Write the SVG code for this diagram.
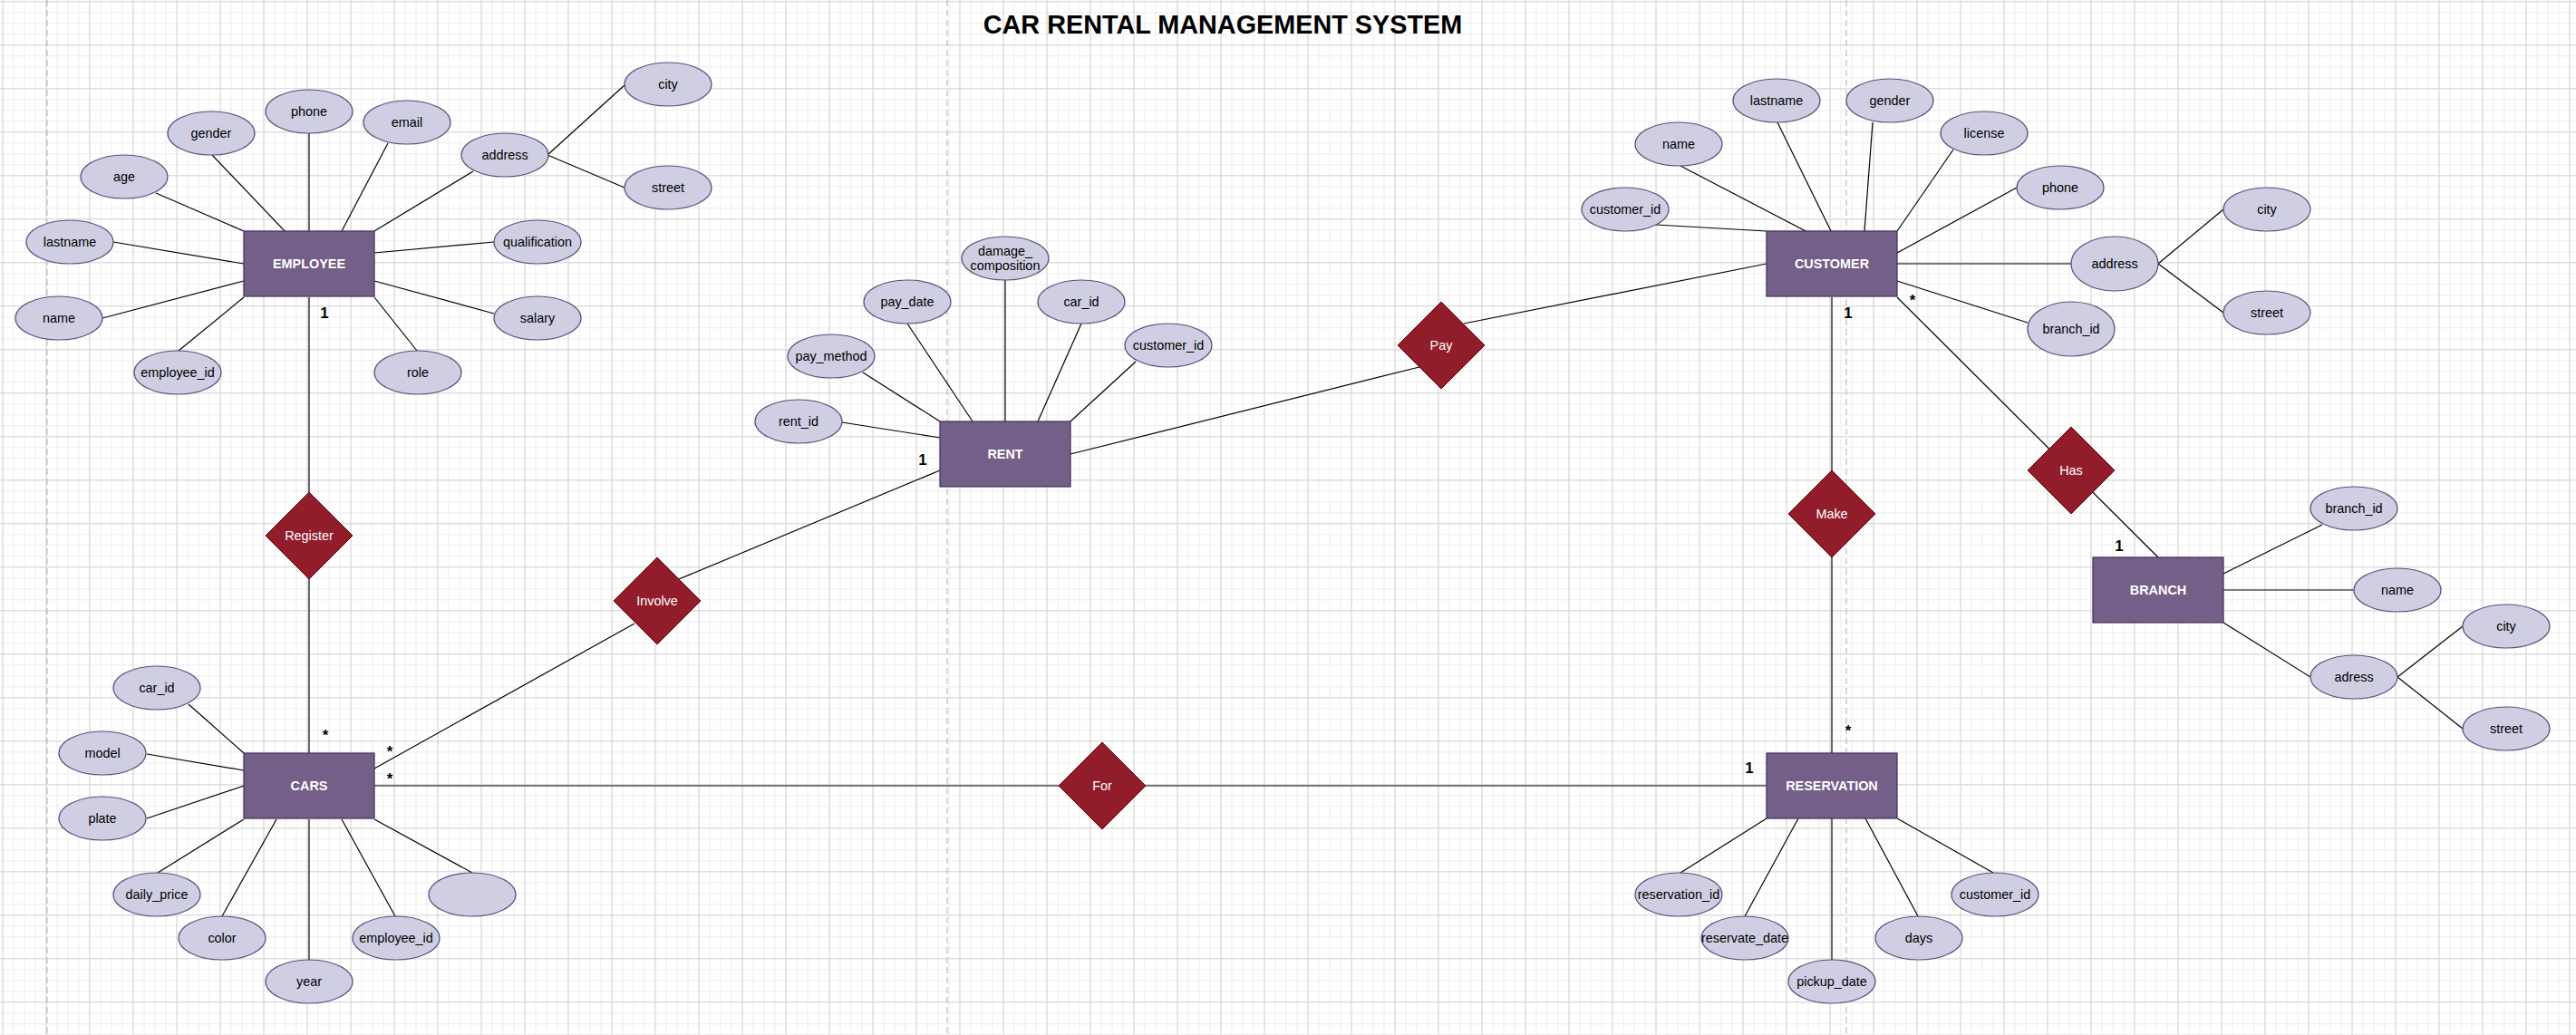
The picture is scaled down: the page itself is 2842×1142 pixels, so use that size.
<svg xmlns="http://www.w3.org/2000/svg" width="2842" height="1142" viewBox="0 0 2842 1142">
<style>
.ent rect{fill:#745F88;stroke:#432D57;stroke-width:1.2}
.ent text{fill:#fff;font-family:"Liberation Sans",Arial,Helvetica,sans-serif;font-size:14.4px;font-weight:bold;text-anchor:middle}
.att ellipse{fill:#D0CEE2;stroke:#56517E;stroke-width:1.2}
.att text{fill:#000;font-family:"Liberation Sans",Arial,Helvetica,sans-serif;font-size:14.4px;text-anchor:middle}
.rel path{fill:#911D2B;stroke:#6F0000;stroke-width:1}
.rel text{fill:#fff;font-family:"Liberation Sans",Arial,Helvetica,sans-serif;font-size:14.4px;text-anchor:middle}
#connectors line{stroke:#000;stroke-width:1.2}
.card{fill:#000;font-family:"Liberation Sans",Arial,Helvetica,sans-serif;font-size:16.8px;font-weight:bold;text-anchor:middle}
.title{fill:#000;font-family:"Liberation Sans",Arial,Helvetica,sans-serif;font-size:28.8px;font-weight:bold;text-anchor:middle}
.page{stroke:#BDBDBD;stroke-width:1.2;stroke-dasharray:7 4}
</style>
<defs>
<pattern id="minor" patternUnits="userSpaceOnUse" x="2.5" y="1.3" width="12" height="12">
<path d="M0 0.5H12M0.5 0V12" fill="none" stroke="#EDEDED" stroke-width="1"/>
</pattern>
<pattern id="major" patternUnits="userSpaceOnUse" x="2.5" y="1.3" width="48" height="48">
<path d="M0 0.5H48M0.5 0V48" fill="none" stroke="#D6D6D6" stroke-width="1"/>
</pattern>
</defs>
<rect width="2842" height="1142" fill="#fff"/>
<rect width="2842" height="1142" fill="url(#minor)"/>
<rect width="2842" height="1142" fill="url(#major)"/>
<line class="page" x1="52" y1="0" x2="52" y2="1142"/>
<line class="page" x1="1045" y1="0" x2="1045" y2="1142"/>
<line class="page" x1="2037" y1="0" x2="2037" y2="1142"/>

<text class="title" x="1349" y="37">CAR RENTAL MANAGEMENT SYSTEM</text>

<g id="connectors">
<!-- EMPLOYEE -->
<line x1="172" y1="213" x2="269" y2="255"/>
<line x1="234" y1="171" x2="316" y2="257"/>
<line x1="341" y1="147" x2="341" y2="255"/>
<line x1="428" y1="158" x2="377" y2="255"/>
<line x1="522" y1="189" x2="413" y2="255"/>
<line x1="604" y1="171" x2="689" y2="94"/>
<line x1="604" y1="171" x2="689" y2="207"/>
<line x1="125" y1="267" x2="269" y2="291"/>
<line x1="113" y1="351" x2="269" y2="310"/>
<line x1="197" y1="387" x2="269" y2="328"/>
<line x1="460" y1="387" x2="413" y2="328"/>
<line x1="545" y1="346" x2="413" y2="310"/>
<line x1="545" y1="267" x2="413" y2="279"/>
<line x1="341" y1="328" x2="341" y2="831"/>
<!-- CARS -->
<line x1="208" y1="777" x2="269" y2="831"/>
<line x1="162" y1="832" x2="269" y2="850"/>
<line x1="162" y1="903" x2="269" y2="867"/>
<line x1="174" y1="963" x2="269" y2="904"/>
<line x1="245" y1="1011" x2="305" y2="904"/>
<line x1="341" y1="1059" x2="341" y2="904"/>
<line x1="436" y1="1011" x2="377" y2="904"/>
<line x1="521" y1="963" x2="413" y2="904"/>
<line x1="413" y1="848" x2="700" y2="688"/>
<line x1="749" y1="639" x2="1037" y2="519"/>
<line x1="413" y1="867" x2="1949" y2="867"/>
<!-- RENT -->
<line x1="929" y1="466" x2="1037" y2="483"/>
<line x1="952" y1="411" x2="1037" y2="465"/>
<line x1="1001" y1="357" x2="1073" y2="465"/>
<line x1="1109" y1="309" x2="1109" y2="465"/>
<line x1="1193" y1="357" x2="1145" y2="465"/>
<line x1="1253" y1="399" x2="1181" y2="465"/>
<line x1="1181" y1="501" x2="1566" y2="405"/>
<line x1="1615" y1="357" x2="1949" y2="291"/>
<!-- CUSTOMER -->
<line x1="1827" y1="248" x2="1949" y2="255"/>
<line x1="1854" y1="183" x2="1996" y2="257"/>
<line x1="1961" y1="135" x2="2020" y2="255"/>
<line x1="2066" y1="135" x2="2057" y2="255"/>
<line x1="2155" y1="165" x2="2093" y2="255"/>
<line x1="2225" y1="207" x2="2093" y2="279"/>
<line x1="2093" y1="291" x2="2285" y2="291"/>
<line x1="2381" y1="291" x2="2453" y2="231"/>
<line x1="2381" y1="291" x2="2453" y2="345"/>
<line x1="2093" y1="310" x2="2237" y2="356"/>
<line x1="2093" y1="328" x2="2381" y2="615"/>
<line x1="2021" y1="328" x2="2021" y2="831"/>
<!-- BRANCH -->
<line x1="2453" y1="633" x2="2562" y2="579"/>
<line x1="2453" y1="651" x2="2597" y2="651"/>
<line x1="2453" y1="687" x2="2549" y2="747"/>
<line x1="2645" y1="747" x2="2717" y2="691"/>
<line x1="2645" y1="747" x2="2717" y2="804"/>
<!-- RESERVATION -->
<line x1="1854" y1="963" x2="1949" y2="903"/>
<line x1="1925" y1="1011" x2="1984" y2="903"/>
<line x1="2021" y1="1059" x2="2021" y2="903"/>
<line x1="2058" y1="903" x2="2116" y2="1011"/>
<line x1="2093" y1="903" x2="2199" y2="963"/>
</g>

<g id="cardinalities">
<text class="card" x="358" y="351">1</text>
<text class="card" x="1018" y="513">1</text>
<text class="card" x="2039" y="351">1</text>
<text class="card" x="2338" y="608">1</text>
<text class="card" x="1930" y="853">1</text>
<text class="card" x="359" y="817">*</text>
<text class="card" x="430" y="835">*</text>
<text class="card" x="430" y="865">*</text>
<text class="card" x="2110" y="337">*</text>
<text class="card" x="2039" y="812">*</text>
</g>

<!-- Relationships -->
<g id="rel-register" class="rel"><path d="M341 543L389 591L341 639L293 591Z"/><text x="341" y="596">Register</text></g>
<g id="rel-involve" class="rel"><path d="M725 615L773 663L725 711L677 663Z"/><text x="725" y="668">Involve</text></g>
<g id="rel-pay" class="rel"><path d="M1590 333L1638 381L1590 429L1542 381Z"/><text x="1590" y="386">Pay</text></g>
<g id="rel-for" class="rel"><path d="M1216 819L1264 867L1216 915L1168 867Z"/><text x="1216" y="872">For</text></g>
<g id="rel-make" class="rel"><path d="M2021 519L2069 567L2021 615L1973 567Z"/><text x="2021" y="572">Make</text></g>
<g id="rel-has" class="rel"><path d="M2285 471L2333 519L2285 567L2237 519Z"/><text x="2285" y="524">Has</text></g>

<!-- Entities -->
<g id="ent-employee" class="ent"><rect x="269" y="255" width="144" height="72"/><text x="341" y="296">EMPLOYEE</text></g>
<g id="ent-cars" class="ent"><rect x="269" y="831" width="144" height="72"/><text x="341" y="872">CARS</text></g>
<g id="ent-rent" class="ent"><rect x="1037" y="465" width="144" height="72"/><text x="1109" y="506">RENT</text></g>
<g id="ent-customer" class="ent"><rect x="1949" y="255" width="144" height="72"/><text x="2021" y="296">CUSTOMER</text></g>
<g id="ent-branch" class="ent"><rect x="2309" y="615" width="144" height="72"/><text x="2381" y="656">BRANCH</text></g>
<g id="ent-reservation" class="ent"><rect x="1949" y="831" width="144" height="72"/><text x="2021" y="872">RESERVATION</text></g>

<!-- EMPLOYEE attributes -->
<g id="emp-city" class="att"><ellipse cx="737" cy="93" rx="48" ry="24"/><text x="737" y="98">city</text></g>
<g id="emp-street" class="att"><ellipse cx="737" cy="207" rx="48" ry="24"/><text x="737" y="212">street</text></g>
<g id="emp-address" class="att"><ellipse cx="557" cy="171" rx="48" ry="24"/><text x="557" y="176">address</text></g>
<g id="emp-email" class="att"><ellipse cx="449" cy="135" rx="48" ry="24"/><text x="449" y="140">email</text></g>
<g id="emp-phone" class="att"><ellipse cx="341" cy="123" rx="48" ry="24"/><text x="341" y="128">phone</text></g>
<g id="emp-gender" class="att"><ellipse cx="233" cy="147" rx="48" ry="24"/><text x="233" y="152">gender</text></g>
<g id="emp-age" class="att"><ellipse cx="137" cy="195" rx="48" ry="24"/><text x="137" y="200">age</text></g>
<g id="emp-lastname" class="att"><ellipse cx="77" cy="267" rx="48" ry="24"/><text x="77" y="272">lastname</text></g>
<g id="emp-name" class="att"><ellipse cx="65" cy="351" rx="48" ry="24"/><text x="65" y="356">name</text></g>
<g id="emp-employee-id" class="att"><ellipse cx="196" cy="411" rx="48" ry="24"/><text x="196" y="416">employee_id</text></g>
<g id="emp-role" class="att"><ellipse cx="461" cy="411" rx="48" ry="24"/><text x="461" y="416">role</text></g>
<g id="emp-salary" class="att"><ellipse cx="593" cy="351" rx="48" ry="24"/><text x="593" y="356">salary</text></g>
<g id="emp-qualification" class="att"><ellipse cx="593" cy="267" rx="48" ry="24"/><text x="593" y="272">qualification</text></g>

<!-- CARS attributes -->
<g id="car-car-id" class="att"><ellipse cx="173" cy="759" rx="48" ry="24"/><text x="173" y="764">car_id</text></g>
<g id="car-model" class="att"><ellipse cx="113" cy="831" rx="48" ry="24"/><text x="113" y="836">model</text></g>
<g id="car-plate" class="att"><ellipse cx="113" cy="903" rx="48" ry="24"/><text x="113" y="908">plate</text></g>
<g id="car-daily-price" class="att"><ellipse cx="173" cy="987" rx="48" ry="24"/><text x="173" y="992">daily_price</text></g>
<g id="car-color" class="att"><ellipse cx="245" cy="1035" rx="48" ry="24"/><text x="245" y="1040">color</text></g>
<g id="car-year" class="att"><ellipse cx="341" cy="1083" rx="48" ry="24"/><text x="341" y="1088">year</text></g>
<g id="car-employee-id" class="att"><ellipse cx="437" cy="1035" rx="48" ry="24"/><text x="437" y="1040">employee_id</text></g>
<g id="car-empty" class="att"><ellipse cx="521" cy="987" rx="48" ry="24"/></g>

<!-- RENT attributes -->
<g id="rent-rent-id" class="att"><ellipse cx="881" cy="465" rx="48" ry="24"/><text x="881" y="470">rent_id</text></g>
<g id="rent-pay-method" class="att"><ellipse cx="917" cy="393" rx="48" ry="24"/><text x="917" y="398">pay_method</text></g>
<g id="rent-pay-date" class="att"><ellipse cx="1001" cy="333" rx="48" ry="24"/><text x="1001" y="338">pay_date</text></g>
<g id="rent-damage" class="att"><ellipse cx="1109" cy="285" rx="48" ry="24"/><text x="1109" y="282">damage_</text><text x="1109" y="298">composition</text></g>
<g id="rent-car-id" class="att"><ellipse cx="1193" cy="333" rx="48" ry="24"/><text x="1193" y="338">car_id</text></g>
<g id="rent-customer-id" class="att"><ellipse cx="1289" cy="381" rx="48" ry="24"/><text x="1289" y="386">customer_id</text></g>

<!-- CUSTOMER attributes -->
<g id="cus-customer-id" class="att"><ellipse cx="1793" cy="231" rx="48" ry="24"/><text x="1793" y="236">customer_id</text></g>
<g id="cus-name" class="att"><ellipse cx="1852" cy="159" rx="48" ry="24"/><text x="1852" y="164">name</text></g>
<g id="cus-lastname" class="att"><ellipse cx="1960" cy="111" rx="48" ry="24"/><text x="1960" y="116">lastname</text></g>
<g id="cus-gender" class="att"><ellipse cx="2085" cy="111" rx="48" ry="24"/><text x="2085" y="116">gender</text></g>
<g id="cus-license" class="att"><ellipse cx="2189" cy="147" rx="48" ry="24"/><text x="2189" y="152">license</text></g>
<g id="cus-phone" class="att"><ellipse cx="2273" cy="207" rx="48" ry="24"/><text x="2273" y="212">phone</text></g>
<g id="cus-address" class="att"><ellipse cx="2333" cy="291" rx="48" ry="30"/><text x="2333" y="296">address</text></g>
<g id="cus-city" class="att"><ellipse cx="2501" cy="231" rx="48" ry="24"/><text x="2501" y="236">city</text></g>
<g id="cus-street" class="att"><ellipse cx="2501" cy="345" rx="48" ry="24"/><text x="2501" y="350">street</text></g>
<g id="cus-branch-id" class="att"><ellipse cx="2285" cy="363" rx="48" ry="30"/><text x="2285" y="368">branch_id</text></g>

<!-- BRANCH attributes -->
<g id="br-branch-id" class="att"><ellipse cx="2597" cy="561" rx="48" ry="24"/><text x="2597" y="566">branch_id</text></g>
<g id="br-name" class="att"><ellipse cx="2645" cy="651" rx="48" ry="24"/><text x="2645" y="656">name</text></g>
<g id="br-adress" class="att"><ellipse cx="2597" cy="747" rx="48" ry="24"/><text x="2597" y="752">adress</text></g>
<g id="br-city" class="att"><ellipse cx="2765" cy="691" rx="48" ry="24"/><text x="2765" y="696">city</text></g>
<g id="br-street" class="att"><ellipse cx="2765" cy="804" rx="48" ry="24"/><text x="2765" y="809">street</text></g>

<!-- RESERVATION attributes -->
<g id="res-reservation-id" class="att"><ellipse cx="1852" cy="987" rx="48" ry="24"/><text x="1852" y="992">reservation_id</text></g>
<g id="res-reservate-date" class="att"><ellipse cx="1925" cy="1035" rx="48" ry="24"/><text x="1925" y="1040">reservate_date</text></g>
<g id="res-pickup-date" class="att"><ellipse cx="2021" cy="1083" rx="48" ry="24"/><text x="2021" y="1088">pickup_date</text></g>
<g id="res-days" class="att"><ellipse cx="2117" cy="1035" rx="48" ry="24"/><text x="2117" y="1040">days</text></g>
<g id="res-customer-id" class="att"><ellipse cx="2201" cy="987" rx="48" ry="24"/><text x="2201" y="992">customer_id</text></g>
</svg>
